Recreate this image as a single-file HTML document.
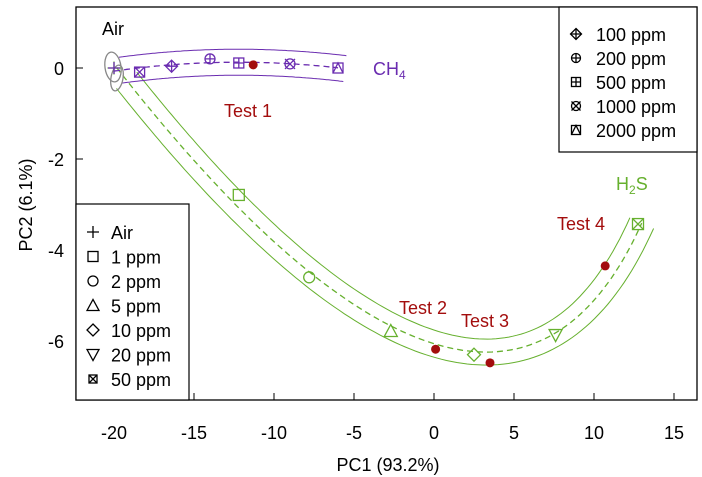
<!DOCTYPE html>
<html><head><meta charset="utf-8"><style>
body{margin:0;background:#fff}
svg{display:block;font-family:"Liberation Sans",Arial,sans-serif}
</style></head><body>
<svg id="chart" width="702" height="477" xmlns="http://www.w3.org/2000/svg">
<g id="layer"></g>
</svg>
<script>
const xTicks=[-20,-15,-10,-5,0,5,10,15];
const yTicks=[0,-2,-4,-6];
const ch4Labels=["Air","50 ppm","100 ppm","200 ppm","500 ppm","1000 ppm","2000 ppm"];
const ch4X=[-20,-18.4,-16.4,-14.0,-12.2,-9.0,-6.0];
const ch4Y=[0,-0.09,0.04,0.2,0.11,0.09,0.0];
const ch4Marks=["plus","sqx","diamplus","circplus","sqplus","circx","sqtri"];
const h2sLabels=["Air","1 ppm","2 ppm","5 ppm","10 ppm","20 ppm","50 ppm"];
const h2sX=[-20,-12.2,-7.8,-2.7,2.5,7.6,12.75];
const h2sY=[0,-2.79,-4.6,-5.78,-6.3,-5.87,-3.43];
const h2sMarks=["plus","square","circle","tri","diamond","tridown","sqx"];
const testNames=["Test 1","Test 2","Test 3","Test 4"];
const testX=[-11.3,0.1,3.5,10.7];
const testY=[0.07,-6.18,-6.48,-4.35];

const L=76,R=697,T=7,B=400;
const sx=v=>434+16*v, sy=v=>68-45.5*v;
const NS="http://www.w3.org/2000/svg";
const g=document.getElementById('layer');
const FS=18;
function el(tag,attrs,parent){const e=document.createElementNS(NS,tag);for(const k in attrs)e.setAttribute(k,attrs[k]);(parent||g).appendChild(e);return e;}
function txt(x,y,s,attrs,name){const t=el('text',Object.assign({x:x,y:y,'font-size':FS},attrs||{}));t.textContent=s;


return t;}

const frame=el('rect',{x:L,y:T,width:R-L,height:B-T,fill:'none',stroke:'#000','stroke-width':1.3});


xTicks.forEach(v=>{const tk=el('line',{x1:sx(v),x2:sx(v),y1:B,y2:B-7,stroke:'#000'});


txt(sx(v),439,String(v),{'text-anchor':'middle'},'x-tick-label');});
yTicks.forEach(v=>{const tk=el('line',{x1:L,x2:L+7,y1:sy(v),y2:sy(v),stroke:'#000'});


txt(L-12,sy(v)+7,String(v),{'text-anchor':'end'},'y-tick-label');});
txt(388,471,"PC1 (93.2%)",{'text-anchor':'middle'},'x-axis-title');
txt(0,0,"PC2 (6.1%)",{'text-anchor':'middle',transform:'translate(32,205) rotate(-90)'},'y-axis-title');

function polyfit(ts,vs,deg){const n=deg+1;const A=[...Array(n)].map(()=>Array(n+1).fill(0));
ts.forEach((t,i)=>{for(let r=0;r<n;r++){for(let c=0;c<n;c++)A[r][c]+=Math.pow(t,r+c);A[r][n]+=vs[i]*Math.pow(t,r);}});
for(let i=0;i<n;i++){let p=i;for(let k=i+1;k<n;k++)if(Math.abs(A[k][i])>Math.abs(A[p][i]))p=k;[A[i],A[p]]=[A[p],A[i]];
for(let k=0;k<n;k++)if(k!==i){const f=A[k][i]/A[i][i];for(let c=i;c<=n;c++)A[k][c]-=f*A[i][c];}}
return A.map((row,i)=>row[n]/row[i]);}
function fitCurve(xs,ys,deg,t0,t1){const P=xs.map((x,i)=>[sx(x),sy(ys[i])]);const d=[0];
for(let i=1;i<P.length;i++)d.push(d[i-1]+Math.hypot(P[i][0]-P[i-1][0],P[i][1]-P[i-1][1]));
const ts=d.map(v=>v/d[d.length-1]);
const cx=polyfit(ts,P.map(p=>p[0]),deg),cy=polyfit(ts,P.map(p=>p[1]),deg);
const ev=(c,t)=>c.reduce((s,a,k)=>s+a*Math.pow(t,k),0);const out=[];
for(let k=0;k<=120;k++){const t=t0+(t1-t0)*k/120;out.push([ev(cx,t),ev(cy,t)]);}return out;}
function offset(pts,d){return pts.map((p,i)=>{const a=pts[Math.max(0,i-1)],b=pts[Math.min(pts.length-1,i+1)];
const dx=b[0]-a[0],dy=b[1]-a[1],l=Math.hypot(dx,dy)||1;return [p[0]-dy/l*d,p[1]+dx/l*d];});}
function pathD(pts){return pts.map((p,i)=>(i?'L':'M')+p[0].toFixed(1)+' '+p[1].toFixed(1)).join(' ');}

const PUR='#6a2cb0',GRN='#66b02e',RED='#a30d0d';
function drawCurve(xs,ys,col,d,nm,deg,b0,b1){const pts=fitCurve(xs,ys,deg,0,1);
const c=el('path',{d:pathD(pts),fill:'none',stroke:col,'stroke-width':1.3,'stroke-dasharray':'6,4'});


const bp=fitCurve(xs,ys,deg,b0,b1);
[d,-d].forEach(o=>{const b=el('path',{d:pathD(offset(bp,o)),fill:'none',stroke:col,'stroke-width':1});

});}
drawCurve(h2sX,h2sY,GRN,13,'h2s',3,0.03,1.0);
drawCurve(ch4X,ch4Y,PUR,13,'ch4',2,0.03,1.03);

const e1=el('ellipse',{cx:113,cy:67,rx:8,ry:15,fill:'none',stroke:'#888','stroke-width':1.3,transform:'rotate(-8 113 67)'});


const e2=el('ellipse',{cx:117,cy:78,rx:6,ry:13,fill:'none',stroke:'#888','stroke-width':1.3,transform:'rotate(10 117 78)'});



function marker(type,x,y,col,s){const grp=el('g',{stroke:col,fill:'none','stroke-width':1.3});
const h=s/2;
if(type=='plus'){el('path',{d:`M${x-h-1} ${y}H${x+h+1}M${x} ${y-h-1}V${y+h+1}`},grp);}
if(type=='square'||type.startsWith('sq'))el('rect',{x:x-h,y:y-h,width:s,height:s},grp);
if(type=='sqx')el('path',{d:`M${x-h} ${y-h}L${x+h} ${y+h}M${x+h} ${y-h}L${x-h} ${y+h}`},grp);
if(type=='sqplus')el('path',{d:`M${x-h} ${y}H${x+h}M${x} ${y-h}V${y+h}`},grp);
if(type=='sqtri')el('path',{d:`M${x-h} ${y+h}L${x} ${y-h}L${x+h} ${y+h}`},grp);
if(type=='circle'||type=='circplus')el('circle',{cx:x,cy:y,r:h},grp);
if(type=='circplus')el('path',{d:`M${x-h} ${y}H${x+h}M${x} ${y-h}V${y+h}`},grp);
if(type=='circx'){el('circle',{cx:x,cy:y,r:h},grp);el('path',{d:`M${x-h} ${y-h}L${x+h} ${y+h}M${x+h} ${y-h}L${x-h} ${y+h}`},grp);}
if(type=='tri')el('path',{d:`M${x-h-1} ${y+h}L${x} ${y-h-1}L${x+h+1} ${y+h}Z`},grp);
if(type=='tridown')el('path',{d:`M${x-h-1} ${y-h}L${x} ${y+h+1}L${x+h+1} ${y-h}Z`},grp);
if(type=='diamond'||type=='diamplus')el('path',{d:`M${x} ${y-h-1}L${x+h+1} ${y}L${x} ${y+h+1}L${x-h-1} ${y}Z`},grp);
if(type=='diamplus')el('path',{d:`M${x-h-1} ${y}H${x+h+1}M${x} ${y-h-1}V${y+h+1}`},grp);
return grp;}

h2sX.forEach((v,i)=>{const m=marker(h2sMarks[i],sx(v),sy(h2sY[i]),GRN,11);

});
ch4X.forEach((v,i)=>{const m=marker(ch4Marks[i],sx(v),sy(ch4Y[i]),PUR,10);

});
testX.forEach((v,i)=>{const c=el('circle',{cx:sx(v),cy:sy(testY[i]),r:4.5,fill:RED});

});

txt(102,35,"Air",{fill:'#000'},'air-label');
const ch=txt(373,75,"CH",{fill:PUR},'ch4-label');const sub=el('tspan',{'font-size':12,dy:4},ch);sub.textContent='4';
const hs=txt(616,190,"H",{fill:GRN},'h2s-label');const s2=el('tspan',{'font-size':12,dy:4},hs);s2.textContent='2';const s3=el('tspan',{dy:-4},hs);s3.textContent='S';
const tPos=[[224,117],[399,314],[461,327],[557,230]];
testNames.forEach((n,i)=>txt(tPos[i][0],tPos[i][1],n,{fill:RED},'test-label-'+(i+1)));

const lg1=el('rect',{x:L,y:204,width:113,height:B-204,fill:'#fff',stroke:'#000','stroke-width':1.2});


h2sLabels.forEach((n,i)=>{const y=232+i*24.5;const m=marker(h2sMarks[i],93,y,'#000',h2sMarks[i]=='sqx'?8:10);


txt(111,y+7,n,{},'legend-entry');});
const lg2=el('rect',{x:559,y:T,width:R-559,height:145,fill:'#fff',stroke:'#000','stroke-width':1.2});


ch4Labels.slice(2).forEach((n,i)=>{const y=34+i*24;const m=marker(ch4Marks[i+2],576,y,'#000',9);


txt(596,y+7,n,{},'legend-entry');});
</script>
</body></html>
